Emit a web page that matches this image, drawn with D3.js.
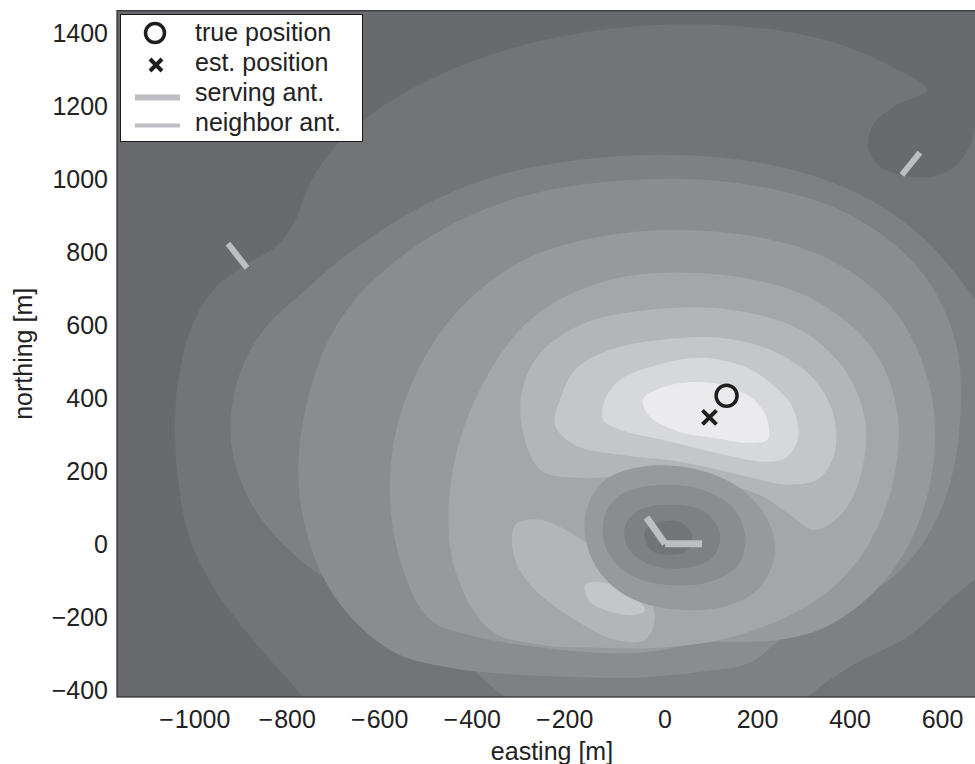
<!DOCTYPE html>
<html>
<head>
<meta charset="utf-8">
<script src="https://cdn.jsdelivr.net/npm/d3@7"></script>
<style>
  body { margin: 0; background: #fff; }
  text { font-family: "Liberation Sans", Arial, sans-serif; fill: #222; }
</style>
</head>
<body>
<div id="chart"></div>
<script>
// ---- data (metres, easting / northing) ----
const xTicks = [-1000, -800, -600, -400, -200, 0, 200, 400, 600];
const yTicks = [-400, -200, 0, 200, 400, 600, 800, 1000, 1200, 1400];

// fill colour of each contour level, darkest (level 0) to lightest
const levelColors = ["#696a6e", "#737478", "#7f8084", "#8b8c90", "#98999d",
                     "#a5a6aa", "#b4b5b9", "#c5c6c9", "#d7d8db", "#ebebed"];

// contour outlines
const contourL1 = [[-720,-520],[-783,-420],[-891,-263],[-973,-126],[-1027,11],[-1053,175],[-1060,340],[-1049,475],[-1023,597],[-975,699],[-904,768],[-839,817],[-800,885],[-774,972],[-731,1063],[-655,1159],[-525,1263],[-353,1351],[-162,1405],[32,1425],[227,1411],[378,1370],[486,1311],[566,1245],[497,1201],[450,1150],[440,1080],[470,1030],[520,1010],[573,1006],[627,1034],[659,1094],[680,1160],[760,1160],[760,-520]];
const contourL2 = [[-331,-428],[-422,-340],[-530,-250],[-659,-154],[-789,-44],[-886,93],[-936,258],[-930,422],[-876,573],[-778,696],[-659,820],[-519,930],[-357,1012],[-184,1053],[-11,1067],[162,1053],[313,1012],[443,943],[551,847],[638,724],[703,587],[724,121],[703,-44],[616,-154],[530,-250],[486,-282],[406,-332],[309,-420],[270,-483],[0,-520]];
const contourL3 = [[-595,-291],[-724,-126],[-789,121],[-778,367],[-703,614],[-551,806],[-335,943],[-76,998],[184,984],[400,902],[551,751],[627,559],[638,340],[605,121],[530,-44],[422,-154],[313,-222],[249,-263],[184,-326],[76,-351],[-32,-365],[-141,-367],[-313,-359],[-465,-340]];
const contourL4 = [[-508,-208],[-573,-44],[-595,175],[-562,395],[-465,614],[-313,773],[-119,847],[119,855],[335,792],[486,655],[562,477],[584,285],[551,66],[476,-99],[357,-222],[249,-263],[76,-271],[-32,-296],[-141,-299],[-313,-277],[-422,-250]];
const contourL5 = [[-378,-236],[-454,-71],[-465,148],[-411,395],[-292,614],[-119,724],[119,738],[313,675],[448,537],[502,362],[493,170],[439,-3],[357,-126],[249,-208],[119,-263],[-11,-285],[-141,-285],[-270,-277]];
const peakL6 = [[-313,367],[-281,505],[-184,600],[-32,642],[141,642],[292,587],[389,477],[432,340],[426,203],[389,93],[324,38],[270,80],[205,134],[76,175],[-54,189],[-184,181],[-270,203]];
const lobeL6 = [[-324,52],[-270,66],[-162,-3],[-65,-99],[-22,-195],[-43,-263],[-108,-263],[-195,-208],[-281,-126],[-324,-44]];
const peakL7 = [[-227,395],[-195,477],[-119,532],[-11,559],[119,565],[227,532],[313,463],[361,367],[368,258],[335,181],[270,162],[162,189],[32,225],[-97,244],[-195,271],[-238,326]];
const lobeL7 = [[-173,-112],[-130,-107],[-76,-140],[-43,-181],[-65,-195],[-119,-186],[-162,-159]];
const peakL8 = [[-130,395],[-97,450],[-32,485],[76,510],[177,483],[238,430],[275,376],[288,293],[264,239],[221,225],[104,252],[-4,285],[-97,313],[-134,340]];
const peakL9 = [[-48,395],[-4,430],[69,444],[141,430],[199,387],[223,332],[221,285],[177,277],[104,291],[32,307],[-32,348]];
const holeL4 = [[-166,107],[-130,175],[-54,211],[54,208],[151,162],[216,80],[238,-16],[210,-112],[141,-167],[32,-181],[-76,-148],[-145,-71],[-173,25]];
const holeL3 = [[-130,80],[-97,134],[-32,159],[65,154],[141,107],[173,25],[158,-58],[97,-104],[0,-112],[-86,-77],[-130,-3]];
const holeL2 = [[-86,52],[-54,93],[11,107],[86,88],[119,25],[102,-38],[43,-66],[-32,-58],[-80,-11]];
const holeL1 = [[-43,38],[-11,60],[32,60],[58,25],[50,-16],[11,-30],[-32,-16]];

// painting order: outer levels first, the dip around the serving site last
const fills = [
  [1, contourL1], [2, contourL2], [3, contourL3], [4, contourL4], [5, contourL5],
  [6, peakL6], [6, lobeL6], [7, peakL7], [7, lobeL7], [8, peakL8], [9, peakL9],
  [4, holeL4], [3, holeL3], [2, holeL2], [1, holeL1]
];

const truePos = [133, 406];
const estPos = [96, 347];
const servingAnt = [[[-40, 72], [0, 0]], [[0, 0], [80, 0]]];
const neighborAnts = [[[512, 1012], [551, 1073]], [[-945, 823], [-904, 757]]];

// ---- layout ----
const width = 975, height = 764;
const x = d3.scaleLinear().domain([-1185, 695]).range([117, 986.5]);
const y = d3.scaleLinear().domain([-420, 1462]).range([697, 10.7]);

const svg = d3.select("#chart").append("svg")
  .attr("width", width).attr("height", height)
  .attr("viewBox", `0 0 ${width} ${height}`);

svg.append("clipPath").attr("id", "plotclip")
  .append("rect")
  .attr("x", x(-1185)).attr("y", y(1462))
  .attr("width", x(695) - x(-1185)).attr("height", y(-420) - y(1462));

const plot = svg.append("g").attr("clip-path", "url(#plotclip)");

plot.append("rect")
  .attr("x", x(-1185)).attr("y", y(1462))
  .attr("width", x(695) - x(-1185)).attr("height", y(-420) - y(1462))
  .attr("fill", levelColors[0]);

const area = d3.line()
  .x(d => x(d[0])).y(d => y(d[1]))
  .curve(d3.curveCatmullRomClosed.alpha(0.5));

plot.selectAll(".level")
  .data(fills)
  .join("path")
  .attr("class", "level")
  .attr("d", d => area(d[1]))
  .attr("fill", d => levelColors[d[0]]);

// antennas
const seg = d3.line().x(d => x(d[0])).y(d => y(d[1]));
plot.selectAll(".serving")
  .data(servingAnt)
  .join("path")
  .attr("class", "serving")
  .attr("d", seg)
  .attr("stroke", "#bdbec1").attr("stroke-width", 7).attr("fill", "none");
plot.selectAll(".neighbor")
  .data(neighborAnts)
  .join("path")
  .attr("class", "neighbor")
  .attr("d", seg)
  .attr("stroke", "#bdbec1").attr("stroke-width", 6).attr("fill", "none");

// positions
plot.append("circle")
  .attr("cx", x(truePos[0])).attr("cy", y(truePos[1])).attr("r", 10.5)
  .attr("fill", "none").attr("stroke", "#1e1e1e").attr("stroke-width", 3.5);

const cross = (g, cx, cy, s) => {
  g.append("path")
    .attr("d", `M${cx - s},${cy - s}L${cx + s},${cy + s}M${cx - s},${cy + s}L${cx + s},${cy - s}`)
    .attr("stroke", "#1e1e1e").attr("stroke-width", 4).attr("fill", "none");
};
cross(plot, x(estPos[0]), y(estPos[1]), 7);

// axes box
svg.append("rect")
  .attr("x", x(-1185)).attr("y", y(1462))
  .attr("width", x(695) - x(-1185)).attr("height", y(-420) - y(1462))
  .attr("fill", "none").attr("stroke", "#2a2a2a").attr("stroke-width", 1.2);

// tick labels
const fs = 25;
const xl = svg.append("g");
xTicks.forEach(v => {
  const t = xl.append("text")
    .attr("x", x(v)).attr("y", 728)
    .attr("text-anchor", "middle").attr("font-size", fs)
    .text(Math.abs(v));
  if (v < 0) {
    const w = t.node().getComputedTextLength();
    xl.append("text")
      .attr("x", x(v) - w / 2 - 1).attr("y", 728)
      .attr("text-anchor", "end").attr("font-size", fs)
      .text("\u2212");
  }
});
svg.append("g").selectAll("text")
  .data(yTicks)
  .join("text")
  .attr("x", 108).attr("y", d => y(d) + 9)
  .attr("text-anchor", "end").attr("font-size", fs)
  .text(d => d < 0 ? "\u2212" + Math.abs(d) : d);

svg.append("text")
  .attr("x", 552).attr("y", 760)
  .attr("text-anchor", "middle").attr("font-size", fs)
  .text("easting [m]");
svg.append("text")
  .attr("transform", `translate(32,${(y(1462) + y(-420)) / 2}) rotate(-90)`)
  .attr("text-anchor", "middle").attr("font-size", fs)
  .text("northing [m]");

// legend
const lg = svg.append("g");
lg.append("rect")
  .attr("x", 120.5).attr("y", 14.5).attr("width", 242).attr("height", 127)
  .attr("fill", "#fff").attr("stroke", "#1a1a1a").attr("stroke-width", 1);
lg.append("circle").attr("cx", 155).attr("cy", 33).attr("r", 9.5)
  .attr("fill", "none").attr("stroke", "#1e1e1e").attr("stroke-width", 3.5);
cross(lg, 156, 65, 6);
lg.append("line").attr("x1", 135).attr("x2", 180).attr("y1", 97.5).attr("y2", 97.5)
  .attr("stroke", "#bdbec1").attr("stroke-width", 6);
lg.append("line").attr("x1", 135).attr("x2", 180).attr("y1", 125.5).attr("y2", 125.5)
  .attr("stroke", "#bdbec1").attr("stroke-width", 4);
const labels = ["true position", "est. position", "serving ant.", "neighbor ant."];
lg.selectAll(".lt")
  .data(labels)
  .join("text")
  .attr("class", "lt")
  .attr("x", 195).attr("y", (d, i) => 41 + i * 30)
  .attr("font-size", fs)
  .text(d => d);
</script>
</body>
</html>
